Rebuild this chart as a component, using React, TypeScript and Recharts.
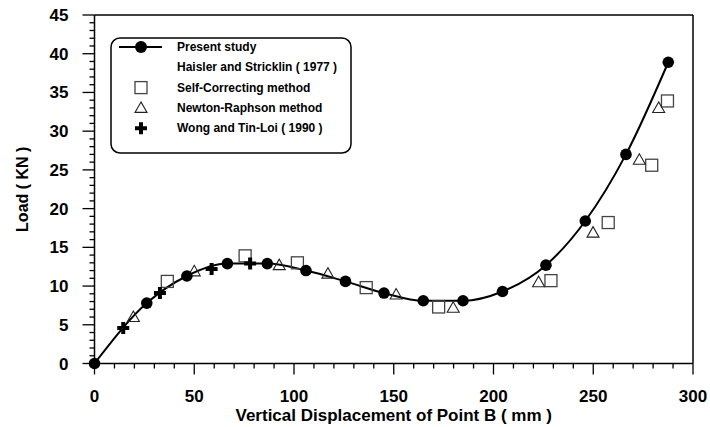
import { ComposedChart, Line, Scatter, XAxis, YAxis, ReferenceLine, Legend } from 'recharts';

// Present study (solid line with filled circles)
const presentX = [0, 26.2, 46.3, 66.6, 86.6, 106, 125.8, 145.1, 164.8, 184.7, 204.5, 226.3, 246, 266.4, 287.6];
const presentY = [0, 7.8, 11.3, 12.9, 12.9, 12.0, 10.6, 9.1, 8.1, 8.1, 9.3, 12.7, 18.4, 27.0, 38.9];

// Self-Correcting method (open squares)
const selfX = [36.5, 75.5, 101.7, 136.2, 172.5, 228.8, 257.5, 279.3, 287.2];
const selfY = [10.6, 13.9, 13.0, 9.8, 7.3, 10.7, 18.2, 25.6, 33.9];

// Newton-Raphson method (open triangles)
const newtonX = [19.5, 50, 92.6, 117, 151.2, 179.8, 222.6, 249.9, 273.1, 282.8];
const newtonY = [6.0, 11.9, 12.7, 11.6, 8.9, 7.2, 10.5, 16.9, 26.3, 33.0];

// Wong and Tin-Loi (1990) (plus signs)
const wongX = [14.4, 32.8, 58.7, 78];
const wongY = [4.6, 9.1, 12.2, 12.9];

const xMajorTicks = [0, 50, 100, 150, 200, 250, 300];
const yMajorTicks = [0, 5, 10, 15, 20, 25, 30, 35, 40, 45];
const xMinorStep = 10;
const yMinorStep = 1;

const legendNames = [
  'Present study',
  'Haisler and Stricklin ( 1977 )',
  'Self-Correcting method',
  'Newton-Raphson method',
  'Wong and Tin-Loi ( 1990 )',
];

const toPoints = (xs: number[], ys: number[]) => xs.map((x, i) => ({ x, y: ys[i] }));
const presentData = toPoints(presentX, presentY);
const selfData = toPoints(selfX, selfY);
const newtonData = toPoints(newtonX, newtonY);
const wongData = toPoints(wongX, wongY);

const fillTicks = (major: number[], step: number) => {
  const out: number[] = [];
  for (let v = major[0]; v <= major[major.length - 1] + 1e-9; v += step) out.push(Math.round(v * 100) / 100);
  return out;
};
const xTicks = fillTicks(xMajorTicks, xMinorStep);
const yTicks = fillTicks(yMajorTicks, yMinorStep);

const FONT = '"Liberation Sans", Arial, Helvetica, sans-serif';

const XTick = ({ x, y, payload }: any) => {
  const major = xMajorTicks.includes(payload.value);
  return (
    <g>
      <line x1={x} x2={x} y1={y} y2={y + (major ? 11 : 5)} stroke="#000" strokeWidth={1.3} />
      {major && (
        <text x={x} y={y + 38} textAnchor="middle" fontSize={17} fontWeight="bold" fontFamily={FONT} fill="#000">
          {payload.value}
        </text>
      )}
    </g>
  );
};

const YTick = ({ x, y, payload }: any) => {
  const major = yMajorTicks.includes(payload.value);
  return (
    <g>
      <line x1={x - (major ? 12 : 5)} x2={x} y1={y} y2={y} stroke="#000" strokeWidth={1.3} />
      {major && (
        <text x={x - 26} y={y + 6} textAnchor="end" fontSize={17} fontWeight="bold" fontFamily={FONT} fill="#000">
          {payload.value}
        </text>
      )}
    </g>
  );
};

const Square = ({ cx, cy }: any) => (
  <rect x={cx - 6} y={cy - 6} width={12} height={12} fill="none" stroke="#444" strokeWidth={1.3} />
);
const Triangle = ({ cx, cy }: any) => (
  <polygon points={`${cx},${cy - 6} ${cx - 6},${cy + 4.5} ${cx + 6},${cy + 4.5}`} fill="none" stroke="#222" strokeWidth={1.1} />
);
const Plus = ({ cx, cy }: any) => (
  <path d={`M${cx - 6},${cy}H${cx + 6}M${cx},${cy - 6}V${cy + 6}`} stroke="#000" strokeWidth={4} />
);

const LegendBox = () => {
  const rowY = (i: number) => 10 + i * 20.3;
  const sx = 31;
  const tx = 67;
  return (
    <svg width={244} height={118} style={{ display: 'block' }}>
      <rect x={1} y={1} width={240} height={115} rx={9} fill="#fff" stroke="#000" strokeWidth={1.5} />
      <line x1={9} x2={52} y1={rowY(0)} y2={rowY(0)} stroke="#000" strokeWidth={2} />
      <circle cx={sx} cy={rowY(0)} r={6} fill="#000" />
      <Square cx={sx} cy={rowY(2)} />
      <Triangle cx={sx} cy={rowY(3)} />
      <Plus cx={sx} cy={rowY(4)} />
      {legendNames.map((name, i) => (
        <text key={name} x={tx} y={rowY(i) + 4} fontSize={12} fontWeight="bold" fontFamily={FONT} fill="#000">
          {name}
        </text>
      ))}
    </svg>
  );
};

export default function App() {
  return (
    <div style={{ position: 'absolute', left: 0, top: 0, background: '#fff' }}>
      <ComposedChart width={710} height={427} margin={{ top: 15, right: 17, left: 0, bottom: 0 }}>
        <XAxis
          type="number"
          dataKey="x"
          domain={[0, 300]}
          ticks={xTicks}
          interval={0}
          height={63.5}
          tickSize={0}
          tickMargin={0}
          tickLine={false}
          axisLine={{ stroke: '#000', strokeWidth: 1.5 }}
          tick={<XTick />}
          label={{
            value: 'Vertical Displacement of Point B ( mm )',
            position: 'insideBottom',
            offset: 6,
            style: { fontSize: 17, fontWeight: 'bold', fontFamily: FONT, fill: '#000' },
          }}
        />
        <YAxis
          type="number"
          dataKey="y"
          domain={[0, 45]}
          ticks={yTicks}
          interval={0}
          width={94.5}
          tickSize={0}
          tickMargin={0}
          tickLine={false}
          axisLine={{ stroke: '#000', strokeWidth: 1.5 }}
          tick={<YTick />}
          label={{
            value: 'Load ( KN )',
            angle: -90,
            position: 'insideLeft',
            offset: 22,
            style: { fontSize: 16, fontWeight: 'bold', fontFamily: FONT, fill: '#000', textAnchor: 'middle' },
          }}
        />
        <ReferenceLine y={45} stroke="#000" strokeWidth={1.5} />
        <ReferenceLine x={300} stroke="#000" strokeWidth={1.5} />
        <Legend
          layout="horizontal"
          verticalAlign="middle"
          align="center"
          wrapperStyle={{ left: 110, top: 37, width: 244, height: 118 }}
          content={() => <LegendBox />}
        />
        <Line
          data={presentData}
          dataKey="y"
          type="monotone"
          stroke="#000"
          strokeWidth={2}
          dot={{ r: 5.8, fill: '#000', stroke: '#000', strokeWidth: 0 }}
          activeDot={false}
          legendType="none"
          isAnimationActive={false}
        />
        <Scatter data={selfData} dataKey="y" shape={<Square />} legendType="none" isAnimationActive={false} />
        <Scatter data={newtonData} dataKey="y" shape={<Triangle />} legendType="none" isAnimationActive={false} />
        <Scatter data={wongData} dataKey="y" shape={<Plus />} legendType="none" isAnimationActive={false} />
      </ComposedChart>
    </div>
  );
}
